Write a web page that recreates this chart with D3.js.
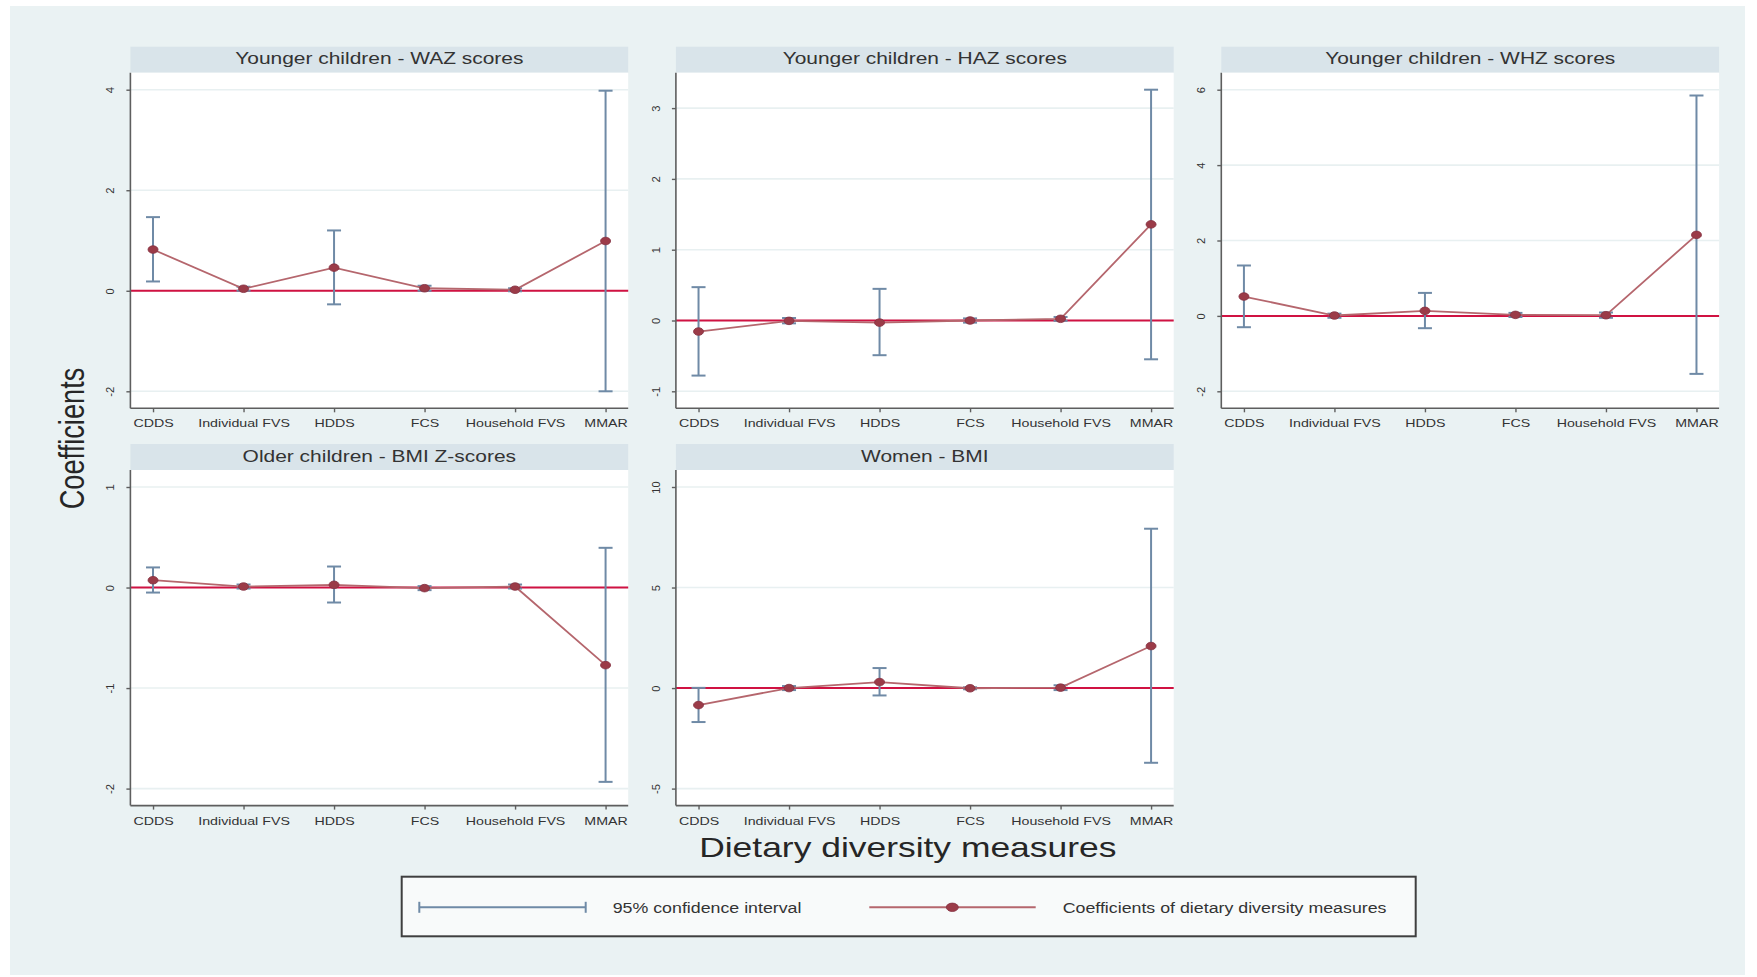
<!DOCTYPE html>
<html>
<head>
<meta charset="utf-8">
<script src="https://cdn.jsdelivr.net/npm/d3@7"></script>
<style>
  html, body { margin: 0; padding: 0; background: #ffffff; }
  svg { display: block; }
  text { font-family: "Liberation Sans", Arial, Helvetica, sans-serif; }
</style>
</head>
<body>
<svg id="chart" width="1757" height="977"></svg>
<script>
// ---- data ----
const categories = ["CDDS", "Individual FVS", "HDDS", "FCS", "Household FVS", "MMAR"];

const panelTitles = [
  "Younger children - WAZ scores",
  "Younger children - HAZ scores",
  "Younger children - WHZ scores",
  "Older children - BMI Z-scores",
  "Women - BMI"
];

// Weight-for-age
const wazCoef = [0.82, 0.04, 0.46, 0.05, 0.02, 0.99];
const wazLow  = [0.185, 0.0, -0.27, 0.0, -0.01, -2.0];
const wazHigh = [1.465, 0.08, 1.2, 0.1, 0.05, 3.98];
const wazTicks = [-2, 0, 2, 4];

// Height-for-age
const hazCoef = [-0.156, -0.005, -0.03, 0.0, 0.024, 1.358];
const hazLow  = [-0.778, -0.04, -0.49, -0.03, -0.005, -0.548];
const hazHigh = [0.471, 0.035, 0.447, 0.03, 0.05, 3.26];
const hazTicks = [-1, 0, 1, 2, 3];

// Weight-for-height
const whzCoef = [0.514, 0.01, 0.133, 0.027, 0.018, 2.149];
const whzLow  = [-0.30, -0.05, -0.326, -0.03, -0.05, -1.538];
const whzHigh = [1.337, 0.06, 0.61, 0.08, 0.09, 5.846];
const whzTicks = [-2, 0, 2, 4, 6];

// Older children BMI-for-age
const bmizCoef = [0.073, 0.01, 0.027, -0.006, 0.01, -0.772];
const bmizLow  = [-0.05, -0.01, -0.149, -0.026, -0.01, -1.933];
const bmizHigh = [0.2, 0.03, 0.209, 0.014, 0.03, 0.395];
const bmizTicks = [-2, -1, 0, 1];

// Women BMI
const womenCoef = [-0.846, 0.0, 0.298, -0.01, 0.02, 2.09];
const womenLow  = [-1.69, -0.1, -0.367, -0.06, -0.1, -3.716];
const womenHigh = [0.01, 0.1, 0.995, 0.04, 0.14, 7.925];
const womenTicks = [-5, 0, 5, 10];

const legendLabels = ["95% confidence interval", "Coefficients of dietary diversity measures"];
const xAxisTitle = "Dietary diversity measures";
const yAxisTitle = "Coefficients";

// ---- styling ----
const C = {
  bg: "#eaf2f3",
  strip: "#d9e4ea",
  plot: "#ffffff",
  grid: "#e8f0f1",
  axis: "#5e5e5e",
  ci: "#6f8aa6",
  line: "#b5666d",
  marker: "#9b3b48",
  markerStroke: "#843040",
  zero: "#d01242",
  text: "#333333",
  legendFill: "#f8fafa",
  legendBorder: "#3f3f3f"
};
const SX = 1.27;          // horizontal glyph stretch
const FONT_TICK = 11.2;

const svg = d3.select("#chart");

// background region
svg.append("rect").attr("x", 10).attr("y", 6).attr("width", 1735).attr("height", 969).attr("fill", C.bg);

// panel grid geometry
const colLeft = [130.4, 675.9, 1221.3];
const panelW = 497.8;
const rowTop = [46.7, 444.0];
const stripH = 26;
const plotH = 335.6;
const pad = 17;

const panels = [
  { title: panelTitles[0], coef: wazCoef, low: wazLow, high: wazHigh, ticks: wazTicks, col: 0, row: 0 },
  { title: panelTitles[1], coef: hazCoef, low: hazLow, high: hazHigh, ticks: hazTicks, col: 1, row: 0 },
  { title: panelTitles[2], coef: whzCoef, low: whzLow, high: whzHigh, ticks: whzTicks, col: 2, row: 0 },
  { title: panelTitles[3], coef: bmizCoef, low: bmizLow, high: bmizHigh, ticks: bmizTicks, col: 0, row: 1 },
  { title: panelTitles[4], coef: womenCoef, low: womenLow, high: womenHigh, ticks: womenTicks, col: 1, row: 1 }
];

panels.forEach(p => {
  const x0 = colLeft[p.col];
  const y0 = rowTop[p.row];
  const g = svg.append("g").attr("transform", `translate(${x0},${y0})`);

  // title strip
  g.append("rect").attr("x", 0).attr("y", 0).attr("width", panelW).attr("height", stripH).attr("fill", C.strip);
  g.append("text")
    .attr("transform", `translate(${panelW / 2},${17.6}) scale(${SX},1)`)
    .attr("text-anchor", "middle")
    .attr("font-size", 16.5)
    .attr("fill", C.text)
    .text(p.title);

  // plot region
  const pg = g.append("g").attr("transform", `translate(0,${stripH})`);
  pg.append("rect").attr("width", panelW).attr("height", plotH).attr("fill", C.plot);

  const x = d3.scalePoint().domain(categories).range([0, panelW]).padding(0.25);
  const ext = d3.extent(p.ticks.concat(p.low, p.high));
  const y = d3.scaleLinear().domain(ext).range([plotH - pad, pad]);

  // gridlines
  pg.selectAll("line.grid").data(p.ticks).join("line")
    .attr("class", "grid")
    .attr("x1", 0).attr("x2", panelW)
    .attr("y1", d => y(d)).attr("y2", d => y(d))
    .attr("stroke", C.grid).attr("stroke-width", 1.6);

  // reference line at zero
  pg.append("line")
    .attr("x1", 0).attr("x2", panelW)
    .attr("y1", y(0)).attr("y2", y(0))
    .attr("stroke", C.zero).attr("stroke-width", 2);

  // confidence intervals (capped)
  const idx = d3.range(categories.length);
  const ci = pg.append("g").attr("stroke", C.ci).attr("stroke-width", 2).attr("fill", "none");
  idx.forEach(i => {
    const cx = x(categories[i]);
    ci.append("line").attr("x1", cx).attr("x2", cx).attr("y1", y(p.low[i])).attr("y2", y(p.high[i]));
    ci.append("line").attr("x1", cx - 7).attr("x2", cx + 7).attr("y1", y(p.low[i])).attr("y2", y(p.low[i]));
    ci.append("line").attr("x1", cx - 7).attr("x2", cx + 7).attr("y1", y(p.high[i])).attr("y2", y(p.high[i]));
  });

  // connected coefficients
  const line = d3.line().x(i => x(categories[i])).y(i => y(p.coef[i]));
  pg.append("path").datum(idx).attr("d", line)
    .attr("fill", "none").attr("stroke", C.line).attr("stroke-width", 1.8);
  pg.selectAll("ellipse.pt").data(idx).join("ellipse")
    .attr("class", "pt")
    .attr("cx", i => x(categories[i])).attr("cy", i => y(p.coef[i]))
    .attr("rx", 5).attr("ry", 3.8)
    .attr("fill", C.marker).attr("stroke", C.markerStroke).attr("stroke-width", 0.8);

  // y axis
  const ya = pg.append("g").call(d3.axisLeft(y).tickValues(p.ticks).tickSize(4).tickFormat(d3.format("d")));
  ya.select(".domain").attr("stroke", C.axis).attr("stroke-width", 1.6).attr("d", `M0,0V${plotH}`);
  ya.selectAll(".tick line").attr("stroke", C.axis).attr("stroke-width", 1.4);
  ya.selectAll(".tick text")
    .attr("x", null).attr("dy", null)
    .attr("transform", "translate(-16,0) rotate(-90)")
    .attr("text-anchor", "middle")
    .attr("font-size", FONT_TICK)
    .attr("font-family", null)
    .attr("fill", C.text)
    .text(d => d < 0 ? "-" + Math.abs(d) : String(d));

  // x axis
  const xa = pg.append("g").attr("transform", `translate(0,${plotH})`)
    .call(d3.axisBottom(x).tickSize(4).tickPadding(7));
  xa.select(".domain").attr("stroke", C.axis).attr("stroke-width", 1.6).attr("d", `M0,0H${panelW}`);
  xa.selectAll(".tick line").attr("stroke", C.axis).attr("stroke-width", 1.4);
  xa.selectAll(".tick text")
    .attr("transform", `scale(${SX},1)`)
    .attr("font-size", FONT_TICK)
    .attr("font-family", null)
    .attr("fill", C.text);
});

// axis titles
svg.append("text")
  .attr("transform", `translate(907.8,857.3) scale(${SX},1)`)
  .attr("text-anchor", "middle")
  .attr("font-size", 27.9)
  .attr("fill", "#262626")
  .text(xAxisTitle);

svg.append("text")
  .attr("transform", `translate(84,438.5) scale(${SX},1) rotate(-90)`)
  .attr("text-anchor", "middle")
  .attr("font-size", 27.2)
  .attr("fill", "#262626")
  .text(yAxisTitle);

// legend
const lg = svg.append("g");
lg.append("rect")
  .attr("x", 401.7).attr("y", 876.7).attr("width", 1014).attr("height", 59.6)
  .attr("fill", C.legendFill).attr("stroke", C.legendBorder).attr("stroke-width", 2);

const keyY = 907.3;
const k1 = lg.append("g").attr("stroke", C.ci).attr("stroke-width", 2);
k1.append("line").attr("x1", 419.3).attr("x2", 585.7).attr("y1", keyY).attr("y2", keyY);
k1.append("line").attr("x1", 419.3).attr("x2", 419.3).attr("y1", keyY - 5.5).attr("y2", keyY + 5.5);
k1.append("line").attr("x1", 585.7).attr("x2", 585.7).attr("y1", keyY - 5.5).attr("y2", keyY + 5.5);
lg.append("text")
  .attr("transform", `translate(612.7,912.6) scale(${SX},1)`)
  .attr("font-size", 14).attr("fill", C.text)
  .text(legendLabels[0]);

lg.append("line").attr("x1", 869.3).attr("x2", 1035.7).attr("y1", keyY).attr("y2", keyY)
  .attr("stroke", C.line).attr("stroke-width", 2);
lg.append("ellipse").attr("cx", 952.3).attr("cy", keyY).attr("rx", 6).attr("ry", 4.2)
  .attr("fill", C.marker).attr("stroke", C.markerStroke).attr("stroke-width", 0.8);
lg.append("text")
  .attr("transform", `translate(1062.7,912.6) scale(${SX},1)`)
  .attr("font-size", 14).attr("fill", C.text)
  .text(legendLabels[1]);
</script>
</body>
</html>
